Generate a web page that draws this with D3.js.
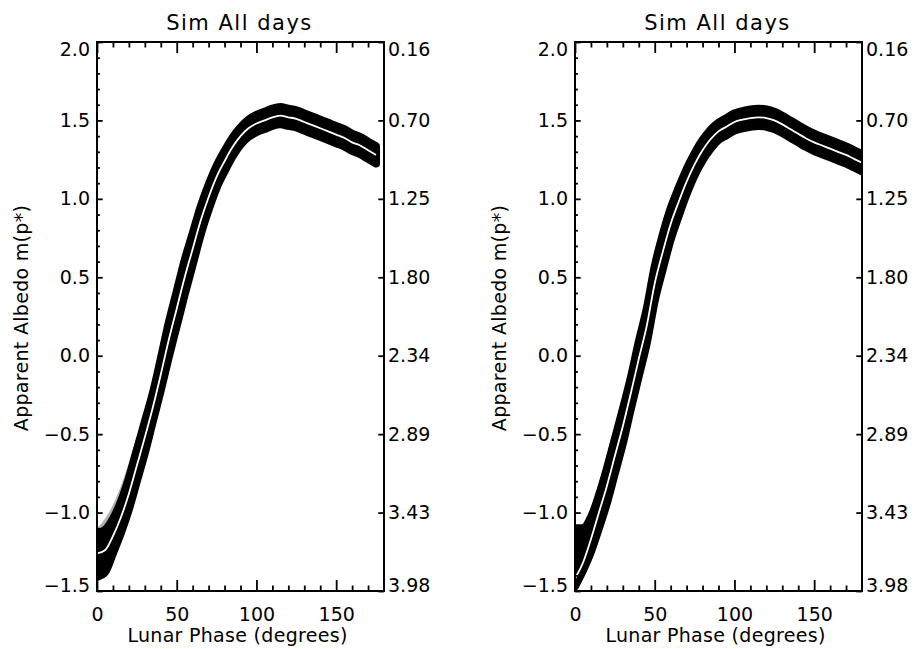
<!DOCTYPE html>
<html>
<head>
<meta charset="utf-8">
<script src="https://cdn.jsdelivr.net/npm/d3@7"></script>
<style>
    body { margin: 0; background: #fff; }
    svg text { font-family: "DejaVu Sans", sans-serif; fill: #000; }
</style>
</head>
<body>
<div id="chart"></div>
<script>
// Left panel: lunar phase (deg), centre line and half widths of the scatter band
const phaseLeft = [0,5,10,15,20,25,30,35,40,45,50,55,60,65,70,75,80,85,90,95,100,105,110,115,120,125,130,135,140,145,150,155,160,165,170,175];
const midLeft = [-1.26,-1.24,-1.15,-1.03,-0.88,-0.70,-0.52,-0.33,-0.12,0.10,0.30,0.50,0.68,0.86,1.01,1.14,1.24,1.33,1.40,1.45,1.48,1.50,1.52,1.53,1.52,1.51,1.49,1.47,1.45,1.43,1.41,1.39,1.36,1.34,1.31,1.28];
const upLeft = [0.13,0.13,0.11,0.10,0.10,0.10,0.10,0.09,0.10,0.11,0.11,0.11,0.10,0.09,0.08,0.07,0.065,0.06,0.055,0.055,0.055,0.055,0.055,0.055,0.055,0.055,0.055,0.055,0.055,0.055,0.055,0.055,0.055,0.055,0.055,0.055];
const downLeft = [0.15,0.14,0.11,0.10,0.10,0.10,0.10,0.09,0.10,0.11,0.11,0.11,0.10,0.09,0.08,0.07,0.065,0.06,0.055,0.055,0.055,0.055,0.055,0.055,0.055,0.055,0.055,0.055,0.055,0.055,0.055,0.055,0.055,0.055,0.055,0.055];
const grayLeft = [0.16,0.20,0.20,0.20,0.20,0.18,0.12,0.06,0,0,0,0,0,0,0,0,0,0,0,0,0,0,0,0,0,0,0,0,0,0,0,0,0,0,0,0];

// Right panel
const phaseRight = [0,5,10,15,20,25,30,35,40,45,50,55,60,65,70,75,80,85,90,95,100,105,110,115,120,125,130,135,140,145,150,155,160,165,170,175,180];
const midRight = [-1.42,-1.32,-1.17,-1.00,-0.83,-0.64,-0.45,-0.24,-0.02,0.19,0.46,0.66,0.84,0.98,1.11,1.22,1.31,1.38,1.43,1.46,1.49,1.505,1.515,1.52,1.515,1.50,1.475,1.445,1.415,1.385,1.36,1.34,1.32,1.30,1.28,1.255,1.23];
const upRight = [0.32,0.22,0.14,0.11,0.11,0.11,0.11,0.10,0.11,0.11,0.11,0.11,0.10,0.09,0.08,0.07,0.065,0.06,0.055,0.055,0.055,0.055,0.055,0.055,0.055,0.055,0.055,0.055,0.055,0.055,0.055,0.055,0.055,0.055,0.055,0.055,0.055];
const downRight = [0.05,0.05,0.08,0.10,0.11,0.11,0.11,0.10,0.11,0.11,0.11,0.11,0.10,0.09,0.08,0.07,0.065,0.06,0.055,0.055,0.055,0.055,0.055,0.055,0.055,0.055,0.055,0.055,0.055,0.055,0.055,0.055,0.055,0.055,0.055,0.055,0.055];

// Axes
const xMajor = [0, 50, 100, 150];
const xMinor = [10,20,30,40,60,70,80,90,110,120,130,140,160,170];
const yMajor = [-1.5, -1.0, -0.5, 0.0, 0.5, 1.0, 1.5, 2.0];
const yMinor = [-1.4,-1.3,-1.2,-1.1,-0.9,-0.8,-0.7,-0.6,-0.4,-0.3,-0.2,-0.1,0.1,0.2,0.3,0.4,0.6,0.7,0.8,0.9,1.1,1.2,1.3,1.4,1.6,1.7,1.8,1.9];
const rightLabels = ['3.98', '3.43', '2.89', '2.34', '1.80', '1.25', '0.70', '0.16'];

const titleText = 'Sim All days';
const xTitle = 'Lunar Phase (degrees)';
const yTitle = 'Apparent Albedo m(p*)';

const W = 914, H = 649;
const plotTop = 42, plotW = 287, plotH = 549;

const panels = [
    { x0: 97, phase: phaseLeft, mid: midLeft, up: upLeft, down: downLeft, gray: grayLeft },
    { x0: 575, phase: phaseRight, mid: midRight, up: upRight, down: downRight, gray: null }
];

const svg = d3.select('#chart').append('svg')
    .attr('width', W)
    .attr('height', H);

const x = d3.scaleLinear().domain([0, 180]).range([0, plotW]);
const y = d3.scaleLinear().domain([-1.5, 2.0]).range([plotH, 0]);

function styleAxis(g) {
    g.select('.domain').remove();
    g.attr('font-family', null).attr('font-size', null);
    g.selectAll('line').attr('stroke', '#000').attr('stroke-width', 1.8);
    g.selectAll('text').attr('font-size', 19).attr('fill', '#000');
}

// IDL pulls the end labels of the y axes inward
function nudgeEnds(g) {
    g.selectAll('text').filter(d => d === 2.0).attr('y', 7);
    g.selectAll('text').filter(d => d === -1.5).attr('y', -6);
}

panels.forEach((p, idx) => {
    const g = svg.append('g').attr('transform', `translate(${p.x0},${plotTop})`);

    const clipId = 'clip' + idx;
    g.append('clipPath').attr('id', clipId)
        .append('rect').attr('width', plotW).attr('height', plotH);

    const rows = p.phase.map((ph, i) => ({
        ph, m: p.mid[i], hi: p.mid[i] + p.up[i], lo: p.mid[i] - p.down[i],
        gr: p.gray ? p.mid[i] + p.gray[i] : p.mid[i]
    }));

    const band = g.append('g').attr('clip-path', `url(#${clipId})`);

    // lighter scatter outside the black band (left panel, low phases)
    if (p.gray) {
        band.append('path')
            .datum(rows)
            .attr('fill', '#b0b0b0')
            .attr('d', d3.area().x(d => x(d.ph)).y0(d => y(d.m)).y1(d => y(d.gr)).curve(d3.curveMonotoneX));
    }

    band.append('path')
        .datum(rows)
        .attr('fill', '#000')
        .attr('stroke', '#000')
        .attr('stroke-width', 8)
        .attr('stroke-linejoin', 'round')
        .attr('d', d3.area().x(d => x(d.ph)).y0(d => y(d.lo)).y1(d => y(d.hi)).curve(d3.curveMonotoneX));

    band.append('path')
        .datum(rows)
        .attr('fill', 'none')
        .attr('stroke', '#fff')
        .attr('stroke-width', 1.8)
        .attr('d', d3.line().x(d => x(d.ph)).y(d => y(d.m)).curve(d3.curveMonotoneX));

    // ticks, all pointing inward
    g.append('g').attr('transform', `translate(0,${plotH})`)
        .call(d3.axisBottom(x).tickValues(xMajor).tickSizeInner(-11).tickSizeOuter(0).tickPadding(17).tickFormat(d3.format('d')))
        .call(styleAxis);
    g.append('g').attr('transform', `translate(0,${plotH})`)
        .call(d3.axisBottom(x).tickValues(xMinor).tickSizeInner(-5.5).tickSizeOuter(0).tickFormat(''))
        .call(styleAxis);
    g.append('g')
        .call(d3.axisTop(x).tickValues(xMajor).tickSizeInner(-11).tickSizeOuter(0).tickFormat(''))
        .call(styleAxis);
    g.append('g')
        .call(d3.axisTop(x).tickValues(xMinor).tickSizeInner(-5.5).tickSizeOuter(0).tickFormat(''))
        .call(styleAxis);

    g.append('g')
        .call(d3.axisLeft(y).tickValues(yMajor).tickSizeInner(-5.7).tickSizeOuter(0).tickPadding(7).tickFormat(d3.format('.1f')))
        .call(styleAxis)
        .call(nudgeEnds);
    g.append('g')
        .call(d3.axisLeft(y).tickValues(yMinor).tickSizeInner(-2.9).tickSizeOuter(0).tickFormat(''))
        .call(styleAxis);

    g.append('g').attr('transform', `translate(${plotW},0)`)
        .call(d3.axisRight(y).tickValues(yMajor).tickSizeInner(-5.7).tickSizeOuter(0).tickPadding(4)
            .tickFormat((d, i) => rightLabels[i]))
        .call(styleAxis)
        .call(nudgeEnds);

    // plot box
    g.append('rect')
        .attr('width', plotW)
        .attr('height', plotH)
        .attr('fill', 'none')
        .attr('stroke', '#000')
        .attr('stroke-width', 2);

    // texts
    g.append('text')
        .attr('x', plotW / 2 - 1)
        .attr('y', -12)
        .attr('text-anchor', 'middle')
        .attr('font-size', 21)
        .attr('letter-spacing', 1.5)
        .text(titleText);

    g.append('text')
        .attr('x', plotW / 2 - 3)
        .attr('y', 600 - plotTop + 42)
        .attr('text-anchor', 'middle')
        .attr('font-size', 19)
        .attr('letter-spacing', 0.3)
        .text(xTitle);

    g.append('text')
        .attr('transform', `translate(-76,${318 - plotTop}) rotate(-90)`)
        .attr('text-anchor', 'middle')
        .attr('dy', '0.35em')
        .attr('font-size', 19)
        .attr('letter-spacing', 0.3)
        .text(yTitle);
});
</script>
</body>
</html>
